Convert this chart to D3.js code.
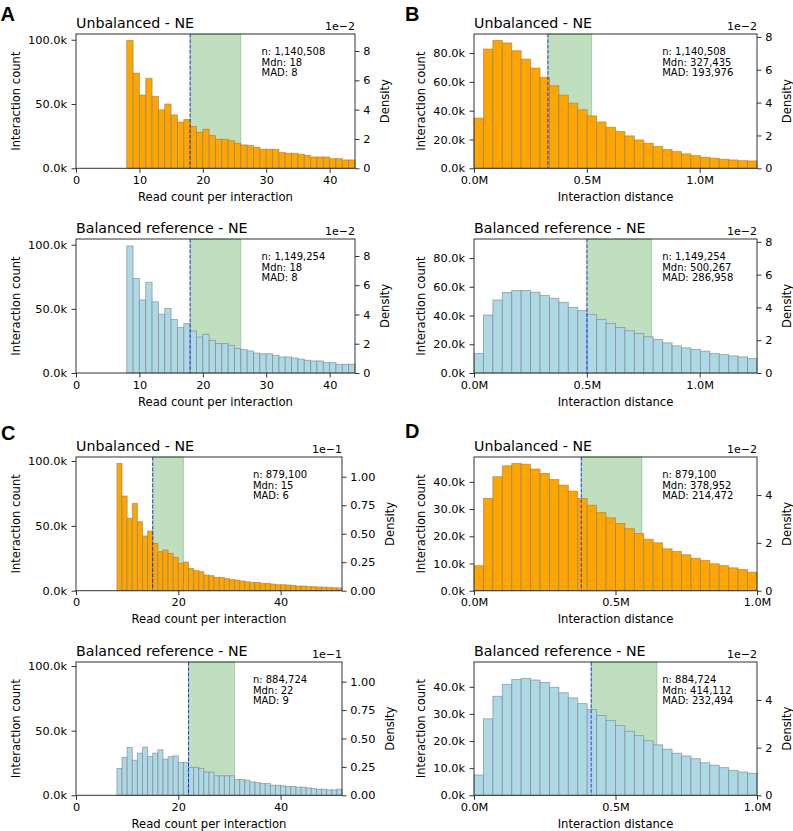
<!DOCTYPE html>
<html><head><meta charset="utf-8">
<script src="https://cdn.jsdelivr.net/npm/d3@7"></script>
<style>
body{margin:0;background:#fff}
text{font-family:"DejaVu Sans",sans-serif;fill:#000}
</style>
</head><body>
<svg id="chart" width="793" height="831"></svg>
<script>
// ---------------- DATA ----------------
// Read-count histograms (bin left edges, unit-width bins)
const readBinsA = d3.range(8, 44);
const readBinsC = d3.range(8, 52);
const countsAUnbal = [99.5,74,57,70,56,45.5,50,41.5,36,38,32.5,28,30.4,25.5,22.6,22.6,21.5,19.5,18.2,17.7,16.4,14.8,14.8,14.8,12.2,11.7,11.7,10.9,10.1,8.8,8.8,8.8,7.5,7.5,6.5,6.5].map(v=>v*1000);
const countsABal   = [99,73.7,57,70.8,55.5,45.8,50.3,41.7,35.4,38.5,32.8,28,30.2,25.5,22.9,22.9,21.6,19,18.2,17.2,15.6,15,15,13.8,12.5,12.5,11.7,10.9,9.9,9.4,9.4,8.1,8.1,6.8,6.8,6.8].map(v=>v*1000);
const countsCUnbal = [98.2,73,55.8,67.4,53.2,42.2,46,36.5,30.1,31.4,28.8,25.7,21.1,22.1,17.2,15.7,14.7,12.1,11.6,10.3,10.3,9.3,8.7,8.2,7.5,6.9,6.4,6.4,5.7,5.7,5.1,4.6,4.6,4.4,4.1,3.6,3.6,3.3,3.1,2.8,2.8,2.6,2.3,2.1].map(v=>v*1000);
const countsCBal   = [20.8,29.4,37,27.1,32.6,37.2,29.9,32.6,35.2,27.9,29.9,30.5,25.3,25.5,21.6,21.6,20.8,18,18,15.1,15.1,15.1,15.1,12.2,12.2,11.7,10.4,9.9,9.1,9.1,7.8,7.8,7.3,6.8,6.8,6.3,6.3,5.7,5.2,4.7,4.7,4.2,4.2,4.7].map(v=>v*1000);
// Interaction-distance histograms (30 equal bins from 0 to max distance)
const distMaxB = 1254000, distMaxD = 1000000, distBinCount = 30;
const countsBUnbal = [34.8,82.8,88.8,87,81.6,75.8,69.6,63.1,57.3,50.8,45.2,40.6,36.4,32.2,28.5,25.5,22.5,19.7,17.4,15.1,13,11.6,10,8.8,7.7,7,6.3,5.8,5.3,5.1].map(v=>v*1000);
const countsBBal   = [13.5,40.3,50.8,56,57.4,57.4,56.2,53.9,52,49.2,45.7,43.4,40.8,37.3,34.5,31.7,29.4,27.5,25.2,23.3,21,18.9,17.5,16.3,15.2,13.5,12.8,11.9,11.2,10].map(v=>v*1000);
const countsDUnbal = [9.2,33.9,41.9,45.9,46.8,46.5,44.7,43.1,40.9,38.8,36.6,33.9,31.4,28.7,26.8,24.7,22.8,21,18.9,17.6,15.4,14.4,13.2,11.9,11.1,9.9,9.2,8.4,7.8,6.8].map(v=>v*1000);
const countsDBal   = [7.5,28.2,36.5,40.9,42.7,43.1,42.5,41.6,39.8,37.8,35.9,33.8,31.6,29.4,27.6,25.7,23.6,22,20.1,18.6,17,15.5,14.5,13.5,12,11.1,10.2,9.2,8.6,8.1].map(v=>v*1000);
// Summary statistics: [n, median, MAD]
const statsAUnbal = [1140508, 18, 8];
const statsABal   = [1149254, 18, 8];
const statsBUnbal = [1140508, 327435, 193976];
const statsBBal   = [1149254, 500267, 286958];
const statsCUnbal = [879100, 15, 6];
const statsCBal   = [884724, 22, 9];
const statsDUnbal = [879100, 378952, 214472];
const statsDBal   = [884724, 414112, 232494];
// Tick values
const xTicksA = [0,10,20,30,40], xTicksC = [0,20,40], xTicksDist = [0,500000,1000000];
const yTicksA = [0,50000,100000], yTicksB = [0,20000,40000,60000,80000];
const yTicksC = [0,50000,100000], yTicksD = [0,10000,20000,30000,40000];
const rTicksAB = [0,0.02,0.04,0.06,0.08], rTicksC = [0,0.025,0.05,0.075,0.1], rTicksD = [0,0.02,0.04];
const titles = ["Unbalanced - NE", "Balanced reference - NE"];

// ---------------- DRAW ----------------
const svg = d3.select("#chart");
svg.append("rect").attr("width",793).attr("height",831).attr("fill","#fff");

const fmtK = v => (v/1000).toFixed(1) + "k";
const fmtM = v => (v/1e6).toFixed(1) + "M";
const fmtInt = v => String(v);
const ORANGE = "#FFA500", BLUE = "#ADD8E6";

function panel(cfg){
  const {l,r,t,b} = cfg;
  const g = svg.append("g");
  const x = d3.scaleLinear().domain(cfg.xDomain).range([l,r]);
  const y = d3.scaleLinear().domain([0,cfg.yMax]).range([b,t]);
  const yr = d3.scaleLinear().domain([0,cfg.rMax]).range([b,t]);
  const [n, mdn, mad] = cfg.stats;
  // MAD band
  const bx0 = x(mdn), bx1 = Math.min(x(mdn+mad), r);
  g.append("rect").attr("x",bx0).attr("y",t).attr("width",bx1-bx0).attr("height",b-t)
    .attr("fill","green").attr("fill-opacity",0.25)
    .attr("stroke","green").attr("stroke-opacity",0.25).attr("stroke-width",1);
  // bars
  g.selectAll("rect.bar").data(cfg.counts).join("rect").attr("class","bar")
    .attr("x",(d,i)=>x(cfg.bins[i]))
    .attr("width",(d,i)=>Math.min(x(cfg.bins[i]+cfg.binW), r) - x(cfg.bins[i]))
    .attr("y",d=>y(d)).attr("height",d=>b-y(d))
    .attr("fill",cfg.fill).attr("stroke","#808080").attr("stroke-opacity",0.65).attr("stroke-width",0.9);
  // median line
  g.append("line").attr("x1",x(mdn)).attr("x2",x(mdn)).attr("y1",t).attr("y2",b)
    .attr("stroke","blue").attr("stroke-opacity",0.75).attr("stroke-width",1)
    .attr("stroke-dasharray","3.7,1.6");
  // axes
  const ax = g.append("g").attr("transform",`translate(0,${b})`)
    .call(d3.axisBottom(x).tickValues(cfg.xTicks).tickFormat(cfg.xFmt).tickSize(4.5).tickPadding(3.2).tickSizeOuter(0));
  const ay = g.append("g").attr("transform",`translate(${l},0)`)
    .call(d3.axisLeft(y).tickValues(cfg.yTicks).tickFormat(fmtK).tickSize(4.5).tickPadding(4.5).tickSizeOuter(0));
  const ar = g.append("g").attr("transform",`translate(${r},0)`)
    .call(d3.axisRight(yr).tickValues(cfg.rTicks).tickFormat(cfg.rFmt).tickSize(4.5).tickPadding(3.8).tickSizeOuter(0));
  [ax,ay,ar].forEach(a=>{
    a.select(".domain").remove();
    a.selectAll("line").attr("stroke","#333").attr("stroke-width",1);
    a.selectAll("text").style("font-family","'DejaVu Sans',sans-serif").style("font-size","11.3px").attr("fill","#000");
  });
  // frame
  g.append("rect").attr("x",l).attr("y",t).attr("width",r-l).attr("height",b-t)
    .attr("fill","none").attr("stroke","#333").attr("stroke-width",1);
  // title
  g.append("text").attr("x",l).attr("y",t-6.5).style("font-size","14.2px").text(cfg.title);
  // offset text
  g.append("text").attr("x",r).attr("y",t-4).attr("text-anchor","end").style("font-size","11px").text(cfg.rExp);
  // x label
  g.append("text").attr("x",(l+r)/2).attr("y",b+32.5).attr("text-anchor","middle").style("font-size","11.6px").text(cfg.xLabel);
  // y labels
  let maxL = 0; ay.selectAll("text").each(function(){maxL = Math.max(maxL, this.getComputedTextLength());});
  let maxR = 0; ar.selectAll("text").each(function(){maxR = Math.max(maxR, this.getComputedTextLength());});
  const lx = l - 9 - maxL - 8;
  g.append("text").attr("transform",`translate(${lx},${(t+b)/2}) rotate(-90)`).attr("text-anchor","middle")
    .style("font-size","11.6px").text("Interaction count");
  const rx = r + 8.3 + maxR + 10 + 8.4;
  g.append("text").attr("transform",`translate(${rx},${(t+b)/2}) rotate(-90)`).attr("text-anchor","middle")
    .style("font-size","11.6px").text("Density");
  // stats annotation
  const tx = l + 0.665*(r-l), ty = t + 0.1*(b-t) + 7.5;
  const lines = ["n: "+d3.format(",")(n), "Mdn: "+d3.format(",")(mdn), "MAD: "+d3.format(",")(mad)];
  g.append("g").selectAll("text").data(lines).join("text")
    .attr("x",tx).attr("y",(d,i)=>ty+i*10.7).style("font-size","10px").text(d=>d);
}

function letter(ch,xp,yp){
  svg.append("text").attr("x",xp).attr("y",yp).text(ch)
    .style("font-family","'Liberation Sans',Arial,sans-serif").style("font-weight","bold").style("font-size","20px");
}

const binWB = distMaxB/distBinCount, binWD = distMaxD/distBinCount;
const binsB = d3.range(distBinCount).map(i=>i*binWB);
const binsD = d3.range(distBinCount).map(i=>i*binWD);

const yMaxA = d3.max(countsAUnbal.concat(countsABal))*1.05;
const yMaxB = d3.max(countsBUnbal.concat(countsBBal))*1.05;
const yMaxC = d3.max(countsCUnbal.concat(countsCBal))*1.05;
const yMaxD = d3.max(countsDUnbal.concat(countsDBal))*1.05;

const fmtR2 = v => String(Math.round(v*100));
const fmtR1 = v => (v*10).toFixed(2);

const boxes = {
  Atop:{l:76,r:355,t:34,b:168.3}, Abot:{l:76,r:355,t:239,b:373},
  Btop:{l:474,r:757,t:34,b:168.3}, Bbot:{l:474,r:757,t:239,b:373},
  Ctop:{l:76,r:342,t:457,b:590.7}, Cbot:{l:76,r:342,t:662,b:795.3},
  Dtop:{l:474,r:757,t:457,b:590.7}, Dbot:{l:474,r:757,t:662,b:795.3}
};

const common = {
  A:{xDomain:[0,44],bins:readBinsA,binW:1,xTicks:xTicksA,xFmt:fmtInt,yTicks:yTicksA,yMax:yMaxA,rMax:yMaxA/statsAUnbal[0],rTicks:rTicksAB,rFmt:fmtR2,rExp:"1e\u22122",xLabel:"Read count per interaction"},
  B:{xDomain:[0,distMaxB],bins:binsB,binW:binWB,xTicks:xTicksDist,xFmt:fmtM,yTicks:yTicksB,yMax:yMaxB,rMax:yMaxB/statsBUnbal[0],rTicks:rTicksAB,rFmt:fmtR2,rExp:"1e\u22122",xLabel:"Interaction distance"},
  C:{xDomain:[0,52],bins:readBinsC,binW:1,xTicks:xTicksC,xFmt:fmtInt,yTicks:yTicksC,yMax:yMaxC,rMax:yMaxC/statsCUnbal[0],rTicks:rTicksC,rFmt:fmtR1,rExp:"1e\u22121",xLabel:"Read count per interaction"},
  D:{xDomain:[0,distMaxD],bins:binsD,binW:binWD,xTicks:xTicksDist,xFmt:fmtM,yTicks:yTicksD,yMax:yMaxD,rMax:yMaxD/statsDUnbal[0],rTicks:rTicksD,rFmt:fmtR2,rExp:"1e\u22122",xLabel:"Interaction distance"}
};

panel({...boxes.Atop,...common.A,counts:countsAUnbal,stats:statsAUnbal,fill:ORANGE,title:titles[0]});
panel({...boxes.Abot,...common.A,counts:countsABal,stats:statsABal,fill:BLUE,title:titles[1]});
panel({...boxes.Btop,...common.B,counts:countsBUnbal,stats:statsBUnbal,fill:ORANGE,title:titles[0]});
panel({...boxes.Bbot,...common.B,counts:countsBBal,stats:statsBBal,fill:BLUE,title:titles[1]});
panel({...boxes.Ctop,...common.C,counts:countsCUnbal,stats:statsCUnbal,fill:ORANGE,title:titles[0]});
panel({...boxes.Cbot,...common.C,counts:countsCBal,stats:statsCBal,fill:BLUE,title:titles[1]});
panel({...boxes.Dtop,...common.D,counts:countsDUnbal,stats:statsDUnbal,fill:ORANGE,title:titles[0]});
panel({...boxes.Dbot,...common.D,counts:countsDBal,stats:statsDBal,fill:BLUE,title:titles[1]});

letter("A",0.5,21); letter("B",405,21); letter("C",1,440); letter("D",405,438);
</script>
</body></html>
